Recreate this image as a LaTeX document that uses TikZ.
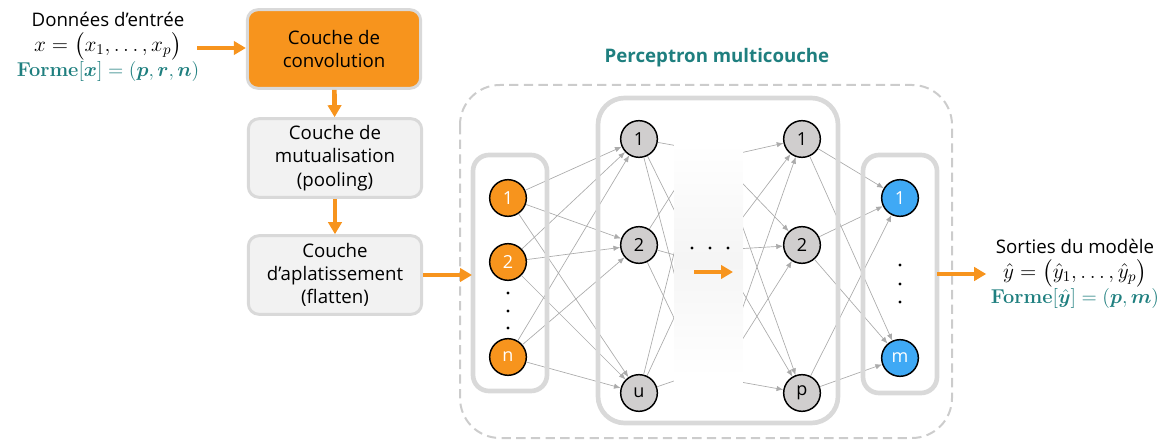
\documentclass[tikz,border=0pt]{standalone}
\usepackage{fix-cm}
\usepackage[no-math]{fontspec}
\setmainfont{Open Sans}
\usepackage{amsmath}
\usepackage{bm}
\usetikzlibrary{arrows.meta,positioning}

\definecolor{orangeconv}{HTML}{F7941D}
\definecolor{grisbord}{HTML}{D9D9D9}
\definecolor{grisfond}{HTML}{F2F2F2}
\definecolor{grisnoeud}{HTML}{D0CECE}
\definecolor{bleusortie}{HTML}{3FA9F5}
\definecolor{sarcelle}{HTML}{1F7F7F}

\newcommand{\grandmath}{\fontsize{16}{18.5}\selectfont}
\newcommand{\formemath}{\fontsize{15}{18.5}\selectfont}

\tikzset{
	couche/.style={draw=grisbord, line width=2.2pt, rounded corners=8pt, minimum width=130pt, minimum height=59pt, align=center, font=\fontsize{14}{17.5}\selectfont, inner sep=2pt},
	neurone/.style={circle, draw=black, line width=1.1pt, minimum size=27.5pt, inner sep=0pt, font=\fontsize{13.5}{15}\selectfont},
	fleche/.style={orangeconv, line width=3.5pt, -{Triangle[length=9pt,width=10pt]}},
	lien/.style={black!33, line width=0.5pt, -{Latex[length=5pt,width=4pt]}},
	lienlibre/.style={black!33, line width=0.5pt},
	cadre/.style={grisbord, line width=3.5pt},
	texte/.style={align=center, font=\fontsize{14}{19}\selectfont},
}

\begin{document}
\begin{tikzpicture}[x=0.75pt, y=-0.75pt]
	
	\useasboundingbox (0,0) rectangle (1166,445);
	
	% entree et couches de convolution
	\node[texte] (entree) at (108,47) {Donn\'ees d’entr\'ee\\ {\grandmath $x = \bigl(x_1, \dots, x_p\bigr)$}\\ {\formemath\color{sarcelle}$\mathbf{Forme}[\bm{x}] = (\bm{p}, \bm{r}, \bm{n})$}};
	\node[couche, fill=orangeconv] (conv) at (334,49) {Couche de\\convolution};
	\node[couche, fill=grisfond] (pool) at (335,158) {Couche de\\mutualisation\\(pooling)};
	\node[couche, fill=grisfond] (flat) at (335,275) {Couche\\d’aplatissement\\(flatten)};
	
	\coordinate (e0) at (197,48);
	\draw[fleche] (e0) -- (e0 -| conv.west);
	\draw[fleche] (conv) -- (pool);
	\draw[fleche] (pool) -- (flat);
	
	% perceptron
	\draw[black!20, line width=1.5pt, dash pattern=on 7pt off 4pt, rounded corners=30pt] (460,85) rectangle (952,438);
	\node[font=\fontsize{14}{15}\selectfont\bfseries, text=sarcelle] (titre) at (717,58) {Perceptron multicouche};
	
	\node[neurone, fill=orangeconv, text=white] (in1) at (508,198) {1};
	\node[neurone, fill=orangeconv, text=white] (in2) at (508,262) {2};
	\node[neurone, fill=orangeconv, text=white] (inn) at (508,357) {n};
	
	\node[neurone, fill=grisnoeud] (ha1) at (639,139) {1};
	\node[neurone, fill=grisnoeud] (ha2) at (639,245) {2};
	\node[neurone, fill=grisnoeud] (hau) at (639,393) {u};
	
	\node[neurone, fill=grisnoeud] (hb1) at (802,139) {1};
	\node[neurone, fill=grisnoeud] (hb2) at (802,245) {2};
	\node[neurone, fill=grisnoeud] (hbp) at (802,393) {p};
	
	\node[neurone, fill=bleusortie, text=white] (out1) at (900,198) {1};
	\node[neurone, fill=bleusortie, text=white] (outm) at (900,358) {m};
	
	% couches cachees du milieu (non dessinees)
	\coordinate (pl1) at (700,150);
	\coordinate (pl2) at (700,262);
	\coordinate (pl3) at (700,372);
	\coordinate (pr1) at (718,158);
	\coordinate (pr2) at (718,250);
	\coordinate (pr3) at (718,378);
	
	\foreach \s in {in1,in2,inn}
		\foreach \t in {ha1,ha2,hau}
			\draw[lien] (\s) -- (\t);
	\foreach \s in {ha1,ha2,hau}
		\foreach \t in {pl1,pl2,pl3}
			\draw[lienlibre] (\s) -- (\t);
	\foreach \s in {pr1,pr2,pr3}
		\foreach \t in {hb1,hb2,hbp}
			\draw[lien] (\s) -- (\t);
	\foreach \s in {hb1,hb2,hbp}
		\foreach \t in {out1,outm}
			\draw[lien] (\s) -- (\t);
	
	% zone estompee
	\fill[white] (674,104) rectangle (743,418);
	\shade[top color=white, bottom color=white, middle color=black!4] (674,143) rectangle (743,377);
	
	\draw[cadre, rounded corners=12pt] (473,155) rectangle (547,391);
	\draw[cadre, rounded corners=20pt] (598,98) rectangle (838,423);
	\draw[cadre, rounded corners=12pt] (863,155) rectangle (937,393);
	
	% points de suspension
	\foreach \y in {293,311,328}
		\fill (508,\y) circle (1.2pt);
	\foreach \y in {265,284,302}
		\fill (900,\y) circle (1.2pt);
	\foreach \x in {692,710,728}
		\fill (\x,248) circle (1.2pt);
	
	\coordinate (m0) at (694,272);
	\coordinate (m1) at (733,272);
	\draw[fleche] (m0) -- (m1);
	
	% entree / sortie du perceptron
	\coordinate (cin) at (472,272);
	\draw[fleche] (flat.east) -- (flat.east -| cin);
	
	\node[texte] (sortie) at (1075,274) {Sorties du mod\`ele\\ {\grandmath $\hat{y} = \bigl(\hat{y}_1, \dots, \hat{y}_p\bigr)$}\\ {\formemath\color{sarcelle}$\mathbf{Forme}[\hat{\bm{y}}] = (\bm{p}, \bm{m})$}};
	\coordinate (cout) at (937,274);
	\draw[fleche] (cout) -- (cout -| sortie.west);
	
\end{tikzpicture}
\end{document}
